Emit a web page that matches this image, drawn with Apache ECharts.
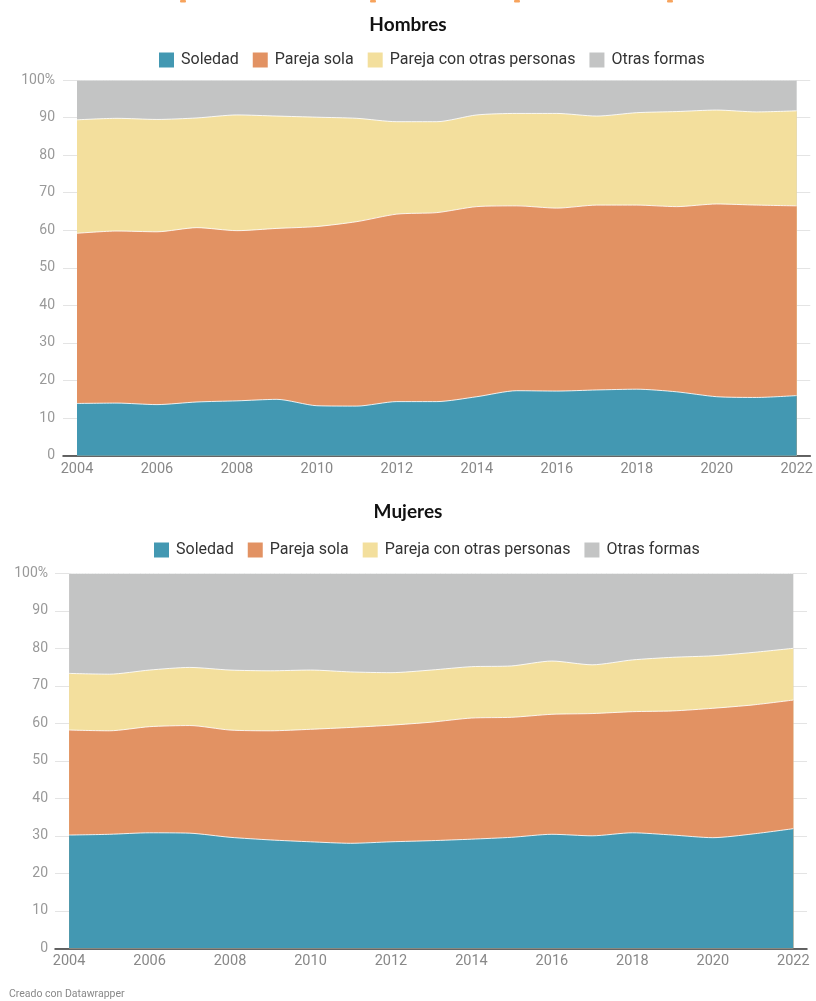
<!DOCTYPE html>
<html>
<head>
<meta charset="utf-8">
<script src="https://cdn.jsdelivr.net/npm/echarts@6/dist/echarts.min.js"></script>
<style>
html,body{margin:0;padding:0;background:#fff;}
#c{width:816px;height:1001px;}
</style>
</head>
<body>
<div id="c"></div>
<script>
const years = [2004,2005,2006,2007,2008,2009,2010,2011,2012,2013,2014,2015,2016,2017,2018,2019,2020,2021,2022];
const seriesNames = ['Soledad','Pareja sola','Pareja con otras personas','Otras formas'];
const xTickLabels = [2004,2006,2008,2010,2012,2014,2016,2018,2020,2022];

// Hombres (%)
const hSoledad     = [13.9,14.0,13.6,14.3,14.6,15.0,13.3,13.2,14.4,14.4,15.7,17.3,17.2,17.5,17.7,17.0,15.7,15.5,16.0];
const hParejaSola  = [45.3,45.8,46.0,46.4,45.3,45.5,47.7,49.1,49.9,50.3,50.6,49.2,48.7,49.2,49.0,49.3,51.3,51.2,50.5];
const hParejaOtras = [30.2,30.0,29.9,29.2,30.8,29.9,29.1,27.5,24.6,24.2,24.4,24.6,25.2,23.7,24.6,25.3,25.0,24.8,25.3];
const hOtras       = [10.6,10.2,10.5,10.1, 9.3, 9.6, 9.9,10.2,11.1,11.1, 9.3, 8.9, 8.9, 9.6, 8.7, 8.4, 8.0, 8.5, 8.2];

// Mujeres (%)
const mSoledad     = [30.2,30.4,30.8,30.7,29.6,28.9,28.4,28.0,28.4,28.7,29.1,29.6,30.4,30.0,30.8,30.2,29.5,30.5,31.9];
const mParejaSola  = [28.0,27.6,28.3,28.7,28.6,29.1,30.0,30.9,31.1,31.6,32.3,32.0,32.0,32.6,32.3,33.1,34.5,34.4,34.3];
const mParejaOtras = [15.1,15.1,15.1,15.5,16.0,16.0,15.8,14.8,14.0,13.9,13.7,13.7,14.2,13.0,13.8,14.3,14.0,14.0,13.8];
const mOtras       = [26.7,26.9,25.8,25.1,25.8,26.0,25.8,26.3,26.5,25.8,24.9,24.7,23.4,24.4,23.1,22.4,22.0,21.1,20.0];

const colors = ['#4398b2','#e29263','#f3df9d','#c3c4c4'];
const FONT = 'Roboto';

// Stack the shares (cumulative sums) and draw from the top layer down,
// each area filled from the axis so the lower layers paint over it.
function mkSeries(arrs, idx){
  const cum = [];
  arrs.forEach((arr,k)=>{
    cum.push(arr.map((v,i)=> v + (k>0 ? cum[k-1][i] : 0)));
  });
  const out = [];
  for (let k = arrs.length-1; k >= 0; k--){
    out.push({
      name: seriesNames[k],
      type: 'line',
      xAxisIndex: idx, yAxisIndex: idx,
      data: years.map((y,i)=>[y, Math.min(100, cum[k][i])]),
      symbol: 'none',
      smooth: 0.25,
      lineStyle: {color: 'rgba(255,255,255,0.85)', width: 1},
      areaStyle: {color: colors[k], opacity: 1, origin: 'start'},
      itemStyle: {color: colors[k]},
      emphasis: {disabled: true},
      silent: true
    });
  }
  return out;
}

function xAxis(idx){
  return {
    type: 'value', gridIndex: idx, min: 2003.65, max: 2022.34,
    axisLine: {show: true, onZero: false, lineStyle: {color: '#333', width: 1.5}},
    axisTick: {show: false},
    splitLine: {show: false},
    axisLabel: {customValues: xTickLabels, color: '#888', fontFamily: FONT, fontSize: 14.5, margin: 6,
      formatter: v => String(v)}
  };
}
function yAxis(idx, margin){
  return {
    type: 'value', gridIndex: idx, min: 0, max: 100, interval: 10,
    axisLine: {show: false}, axisTick: {show: false},
    splitLine: {show: true, lineStyle: {color: '#e4e4e4', width: 1}},
    axisLabel: {color: '#999', fontFamily: FONT, fontSize: 14, margin: margin,
      formatter: v => v === 100 ? '100%' : String(v)}
  };
}

function legend(top, left){
  return {
    data: seriesNames, top: top, left: left,
    icon: 'rect', itemWidth: 15, itemHeight: 15, itemGap: 14,
    textStyle: {fontFamily: FONT, fontSize: 16, color: '#333', padding: [0,0,0,2]},
    selectedMode: false
  };
}

const chart = echarts.init(document.getElementById('c'), null, {renderer: 'canvas'});
const option = {
  backgroundColor: '#fff',
  animation: false,
  title: [
    {text: 'Hombres', left: 'center', top: 10, textStyle: {fontFamily: 'Lato', fontWeight: 'bold', fontSize: 19, color: '#111'}},
    {text: 'Mujeres', left: 'center', top: 497, textStyle: {fontFamily: 'Lato', fontWeight: 'bold', fontSize: 19, color: '#111'}}
  ],
  legend: [legend(47, 154), legend(537, 149)],
  grid: [
    {left: 63, width: 753, top: 80, height: 375.7},
    {left: 55, width: 752, top: 573.3, height: 375}
  ],
  xAxis: [xAxis(0), xAxis(1)],
  yAxis: [yAxis(0, 8), yAxis(1, 7)],
  graphic: [
    {type: 'text', left: 9, top: 989, style: {text: 'Creado con Datawrapper', font: '10.5px Roboto', fill: '#888'}},
    {type: 'rect', shape: {x: 180, y: 0, width: 6, height: 2.5, r: 1}, style: {fill: '#f7a35c'}},
    {type: 'rect', shape: {x: 370, y: 0, width: 6, height: 2.5, r: 1}, style: {fill: '#f7a35c'}},
    {type: 'rect', shape: {x: 514, y: 0, width: 6, height: 2.5, r: 1}, style: {fill: '#f7a35c'}},
    {type: 'rect', shape: {x: 667, y: 0, width: 6, height: 2.5, r: 1}, style: {fill: '#f7a35c'}}
  ],
  series: [].concat(
    mkSeries([hSoledad,hParejaSola,hParejaOtras,hOtras], 0),
    mkSeries([mSoledad,mParejaSola,mParejaOtras,mOtras], 1)
  )
};
chart.setOption(option);
</script>
</body>
</html>
